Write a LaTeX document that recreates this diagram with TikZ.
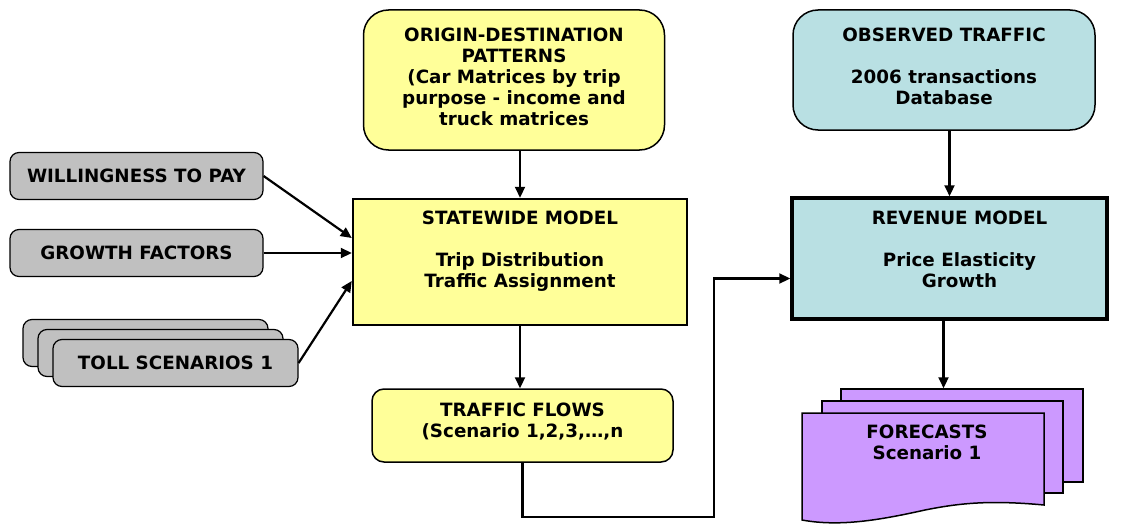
\documentclass[tikz,border=0pt]{standalone}
\usepackage{fontspec}
\setmainfont{DejaVu Sans}
\usetikzlibrary{arrows.meta,positioning}

\definecolor{padyellow}{HTML}{FFFF99}
\definecolor{modelteal}{HTML}{B9E0E3}
\definecolor{inputgray}{HTML}{C0C0C0}
\definecolor{fclilac}{HTML}{CC99FF}

\newcommand{\boxfont}{\fontsize{18.3}{21}\selectfont\bfseries}

\tikzset{
  graybox/.style={draw,line width=1.2pt,fill=inputgray,rounded corners=9pt,
    minimum width=253pt,minimum height=47pt,font=\boxfont,inner sep=0pt},
  padbox/.style={draw,line width=1.5pt,rounded corners=25pt,minimum width=301pt},
  page/.style={draw,line width=1.5pt,fill=fclilac},
  txt/.style={font=\boxfont,align=center,inner sep=0pt,anchor=north},
  conn/.style={line width=2.2pt,-{Triangle[length=11pt,width=10pt]}}
}

\begin{document}
\begin{tikzpicture}[x=1pt,y=-1pt]
  \useasboundingbox (0,0) rectangle (1123,524);

  % top row
  \node[padbox,fill=padyellow,minimum height=140pt] (odbox) at (514,80) {};
  \node[txt] (odtext) at ([yshift=-18pt]odbox.north)
    {ORIGIN-DESTINATION\\PATTERNS\\(Car Matrices by trip\\purpose - income and\\truck matrices};

  \node[padbox,fill=modelteal,minimum width=302pt,minimum height=120pt] (obs) at (944,70) {};
  \node[txt] (obstext) at ([yshift=-18pt]obs.north)
    {OBSERVED TRAFFIC\\[21pt]2006 transactions\\Database};

  % models
  \node[draw,line width=2.5pt,fill=padyellow,minimum width=334pt,minimum height=126pt] (swm) at (520,262) {};
  \node[txt] (swmtext) at ([yshift=-13pt]swm.north)
    {STATEWIDE MODEL\\[21pt]Trip Distribution\\Traffic Assignment};

  \node[draw,line width=3.5pt,fill=modelteal,minimum width=315pt,minimum height=121pt] (rev) at (949.5,258.5) {};
  \node[txt] (revtext) at ([xshift=10pt,yshift=-14pt]rev.north)
    {REVENUE MODEL\\[21pt]Price Elasticity\\Growth};

  \node[padbox,fill=padyellow,rounded corners=12pt,minimum height=73pt] (flows) at (522.5,425.5) {};
  \node[txt] (flowtext) at ([yshift=-14pt]flows.north)
    {TRAFFIC FLOWS\\(Scenario 1,2,3,…,n};

  % inputs
  \node[graybox] (wtp) at (136.5,176) {WILLINGNESS TO PAY};
  \node[graybox] (growth) at (136.5,253) {GROWTH FACTORS};
  \foreach \k in {2,1}
    \node[graybox,minimum width=245pt] (toll\k) at (175.5-15*\k,363-10*\k) {};
  \node[graybox,minimum width=245pt] (toll0) at (175.5,363) {TOLL SCENARIOS 1};

  % forecasts
  \node[page,minimum width=242pt,minimum height=93pt] (fc3) at (962,435.5) {};
  \node[page,minimum width=241pt,minimum height=92pt] (fc2) at (942.5,447) {};
  \draw[page] (802,413) -- (1044,413) -- (1044,505)
    .. controls (990,500) and (960,503) .. (925,510)
    .. controls (880,520) and (840,527) .. (802,520) -- cycle;
  \node[txt] (fctext) at (927,425) {FORECASTS\\Scenario 1};

  % connectors
  \draw[conn] (odbox.south -| swm.north) -- (swm.north);
  \draw[conn] (obs.south -| rev.north) -- (rev.north);
  \draw[conn] (wtp.east) -- ([yshift=24pt]swm.west);
  \draw[conn] (growth.east) -- (growth.east -| swm.west);
  \draw[conn] (toll0.east) -- ([yshift=-19pt]swm.west);
  \draw[conn] (swm.south) -- (swm.south |- flows.north);
  \coordinate (detour) at (714,517);
  \draw[conn] (flows.south) |- (detour) |- ([yshift=-20pt]rev.west);
  \coordinate (revout) at ([xshift=-6pt]rev.south);
  \draw[conn] (revout) -- (revout |- fc3.north);
\end{tikzpicture}
\end{document}
